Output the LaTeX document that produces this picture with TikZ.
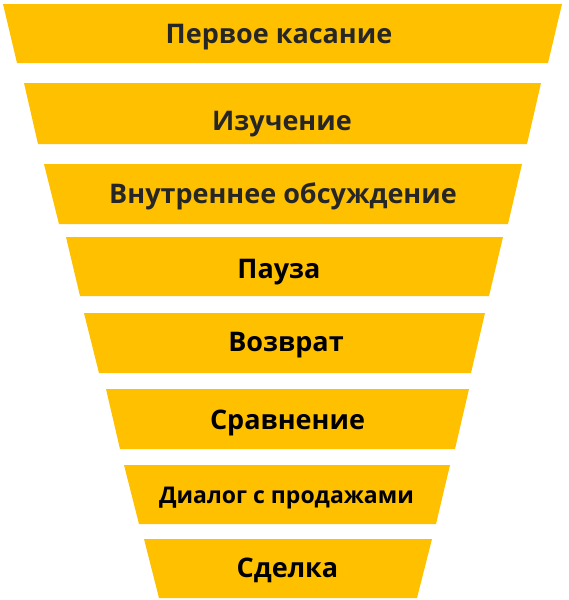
\documentclass[tikz,border=0pt]{standalone}
\usepackage{fontspec}
\setmainfont{Open Sans}
\definecolor{funnel}{HTML}{FFC000}
\definecolor{ink}{HTML}{262626}

\begin{document}
\begin{tikzpicture}
[
x=1pt,y=-1pt,
band/.style={fill=funnel},
stage/.style={font=\bfseries\fontsize{27}{27}\selectfont,text=black,
inner sep=0pt,anchor=base},
small/.style={font=\bfseries\fontsize{23}{23}\selectfont}
]
\useasboundingbox (0,0) rectangle (569,600);
% funnel bands, top to bottom
\fill[band] (3,4) -- (562,4) -- (548,63) -- (17,63) -- cycle;
\fill[band] (24,83) -- (541,83) -- (527,144) -- (38,144) -- cycle;
\fill[band] (44,164) -- (522,164) -- (508,224) -- (59,224) -- cycle;
\fill[band] (66,237) -- (503,237) -- (489,296) -- (80,296) -- cycle;
\fill[band] (84,313) -- (485,313) -- (471,373) -- (99,373) -- cycle;
\fill[band] (106,389) -- (469,389) -- (455,449) -- (120,449) -- cycle;
\fill[band] (124,465) -- (450,465) -- (436,524) -- (139,524) -- cycle;
\fill[band] (144,539) -- (432,539) -- (417,598) -- (159,598) -- cycle;
% stage labels
\node[stage,text=ink] (touch) at (279,43) {Первое касание};
\node[stage,text=ink] (study) at (282,130.5) {Изучение};
\node[stage,text=ink] (talk) at (283,203) {Внутреннее обсуждение};
\node[stage] (pause) at (279,278) {Пауза};
\node[stage] (back) at (286,351) {Возврат};
\node[stage] (compare) at (287.5,429) {Сравнение};
\node[stage,small] (sales) at (286.5,503) {Диалог с продажами};
\node[stage] (deal) at (287.5,577) {Сделка};
\end{tikzpicture}
\end{document}
